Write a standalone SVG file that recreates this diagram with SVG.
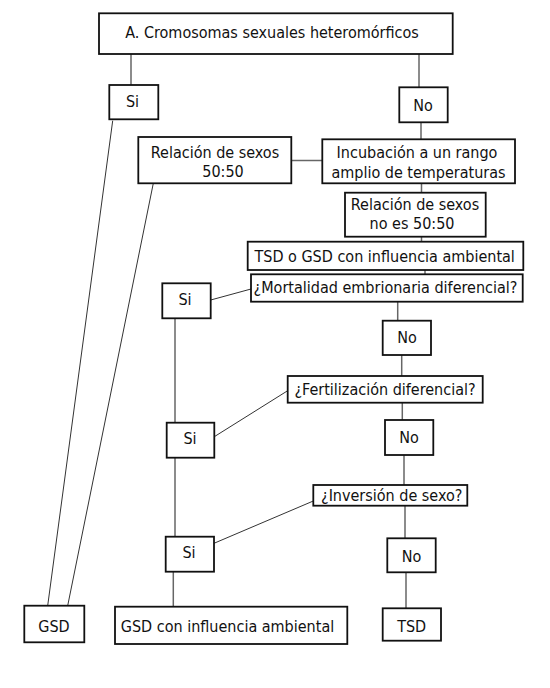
<svg xmlns="http://www.w3.org/2000/svg" width="550" height="688" viewBox="0 0 550 688">
<style>
rect{fill:#fff;stroke:#111;stroke-width:1.8}
text{font-family:"DejaVu Sans Condensed","DejaVu Sans",sans-serif;font-size:16px;fill:#111;text-anchor:middle}
.c{stroke:#666;stroke-width:1.5;fill:none}
.d{stroke:#333;stroke-width:1;fill:none}
</style>
<rect x="0" y="0" width="550" height="688" style="fill:#fff;stroke:none"/>
<g id="connectors">
<line class="c" x1="131" y1="54" x2="131" y2="85"/>
<line class="c" x1="419" y1="54" x2="419" y2="87"/>
<line class="c" x1="421" y1="122" x2="421" y2="139"/>
<line class="c" x1="291" y1="160.5" x2="322" y2="160.5"/>
<line class="c" x1="421.5" y1="183" x2="421.5" y2="193"/>
<line class="c" x1="421.5" y1="236.5" x2="421.5" y2="242"/>
<line class="c" x1="425" y1="270" x2="425" y2="274.5"/>
<line class="d" x1="210.7" y1="300" x2="251" y2="289"/>
<line class="c" x1="397.7" y1="301.7" x2="397.7" y2="320.7"/>
<line class="c" x1="401.7" y1="355" x2="401.7" y2="376"/>
<line class="d" x1="214.3" y1="436.7" x2="287.7" y2="390.7"/>
<line class="c" x1="402.3" y1="402.7" x2="402.3" y2="420"/>
<line class="c" x1="404" y1="455" x2="404" y2="485"/>
<line class="d" x1="214" y1="543.3" x2="313.3" y2="501"/>
<line class="c" x1="405" y1="505.7" x2="405" y2="538.3"/>
<line class="c" x1="175" y1="318.3" x2="175" y2="422.7"/>
<line class="c" x1="175" y1="457.7" x2="175" y2="536.7"/>
<line class="c" x1="173.3" y1="571.7" x2="173.3" y2="606.7"/>
<line class="c" x1="406" y1="572.3" x2="406" y2="608.3"/>
<line class="d" x1="112.7" y1="120.7" x2="47.7" y2="605.7"/>
<line class="d" x1="153.3" y1="183.3" x2="67.7" y2="605.7"/>
</g>
<g id="n-title"><rect x="99" y="13.3" width="353.7" height="40.7"/><text x="272" y="38">A. Cromosomas sexuales heteromórficos</text></g>
<g id="n-si1"><rect x="109.3" y="85" width="49" height="34.3"/><text x="132.5" y="107">Si</text></g>
<g id="n-no1"><rect x="399.3" y="87.3" width="48.4" height="35"/><text x="423" y="111">No</text></g>
<g id="n-incubacion"><rect x="322.3" y="139.3" width="192.7" height="44"/><text x="417" y="158">Incubación a un rango</text><text x="418.5" y="177.5">amplio de temperaturas</text></g>
<g id="n-rel5050"><rect x="138.3" y="137" width="153" height="46.3"/><text x="215" y="157.5">Relación de sexos</text><text x="223" y="176.5">50:50</text></g>
<g id="n-relno"><rect x="345" y="192.7" width="140.7" height="44"/><text x="415" y="210">Relación de sexos</text><text x="412" y="229">no es 50:50</text></g>
<g id="n-tsdgsd"><rect x="247.7" y="241.7" width="275.6" height="28.3"/><text x="384.7" y="261.5">TSD o GSD con influencia ambiental</text></g>
<g id="n-mortalidad"><rect x="251" y="274.3" width="271.7" height="27.4"/><text x="385.5" y="293">¿Mortalidad embrionaria diferencial?</text></g>
<g id="n-si2"><rect x="162.3" y="283.3" width="48.4" height="35"/><text x="185" y="305">Si</text></g>
<g id="n-no2"><rect x="382.7" y="320.7" width="48.3" height="34.3"/><text x="407" y="343">No</text></g>
<g id="n-fertilizacion"><rect x="287.7" y="376" width="195" height="26.7"/><text x="385" y="395">¿Fertilización diferencial?</text></g>
<g id="n-si3"><rect x="166.7" y="422.7" width="47.6" height="35"/><text x="190" y="444">Si</text></g>
<g id="n-no3"><rect x="385" y="420" width="48.3" height="35"/><text x="409" y="443">No</text></g>
<g id="n-inversion"><rect x="313.3" y="485" width="154" height="20.7"/><text x="391.7" y="500.5">¿Inversión de sexo?</text></g>
<g id="n-si4"><rect x="165.7" y="536.7" width="48.3" height="35"/><text x="189" y="558">Si</text></g>
<g id="n-no4"><rect x="387.3" y="538.3" width="48.4" height="34"/><text x="411.5" y="561.5">No</text></g>
<g id="n-gsdamb"><rect x="115" y="606.7" width="232.3" height="37.3"/><text x="227.5" y="631.5">GSD con influencia ambiental</text></g>
<g id="n-tsd"><rect x="382.7" y="608.3" width="58.3" height="32.4"/><text x="411.7" y="631.5">TSD</text></g>
<g id="n-gsd"><rect x="24.3" y="605.7" width="60" height="36.6"/><text x="54" y="631.5">GSD</text></g>
</svg>
